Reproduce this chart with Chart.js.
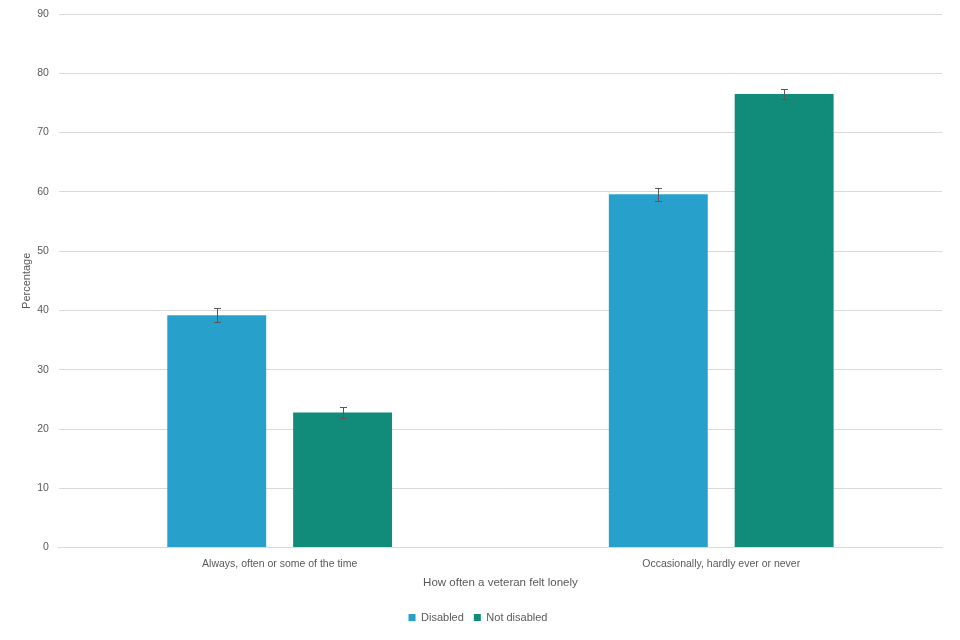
<!DOCTYPE html>
<html>
<head>
<meta charset="utf-8">
<script src="https://cdn.jsdelivr.net/npm/chart.js@4"></script>
<style>
html,body{margin:0;padding:0;background:#fff;}
#wrap{width:960px;height:640px;position:relative;}
</style>
</head>
<body>
<div id="wrap"><canvas id="c" width="960" height="640"></canvas></div>
<script>
const categories = ["Always, often or some of the time", "Occasionally, hardly ever or never"];
const disabled = [39.2, 59.6];
const disabledErr = [1.2, 1.1];
const notDisabled = [22.8, 76.5];
const notDisabledErr = [0.9, 0.9];
const yTicks = [0, 10, 20, 30, 40, 50, 60, 70, 80, 90];

const FONT = "'Liberation Sans', Arial, sans-serif";

const errorBars = {
  id: 'errorBars',
  afterDatasetsDraw(chart) {
    const ctx = chart.ctx;
    const y = chart.scales.y;
    chart.data.datasets.forEach((ds, i) => {
      const meta = chart.getDatasetMeta(i);
      meta.data.forEach((bar, j) => {
        const v = ds.data[j], e = ds.errors[j];
        const top = Math.round(y.getPixelForValue(v + e)) + 0.5;
        const bot = Math.round(y.getPixelForValue(v - e)) + 0.5;
        const x = Math.round(bar.x) + 0.5;
        ctx.save();
        ctx.strokeStyle = '#595959';
        ctx.lineWidth = 1;
        ctx.beginPath();
        ctx.moveTo(x, top); ctx.lineTo(x, bot);
        ctx.moveTo(x - 3.5, top); ctx.lineTo(x + 3.5, top);
        ctx.moveTo(x - 3.5, bot); ctx.lineTo(x + 3.5, bot);
        ctx.stroke();
        ctx.restore();
      });
    });
  }
};

new Chart(document.getElementById('c'), {
  type: 'bar',
  data: {
    labels: categories,
    datasets: [
      { label: 'Disabled', data: disabled, errors: disabledErr, backgroundColor: '#27a0cc' },
      { label: 'Not disabled', data: notDisabled, errors: notDisabledErr, backgroundColor: '#118c7b' }
    ]
  },
  options: {
    responsive: false,
    animation: false,
    devicePixelRatio: 1,
    layout: { padding: { left: 14, right: 18, top: 14, bottom: 7 } },
    datasets: { bar: { categoryPercentage: 0.57, barPercentage: 0.786 } },
    plugins: {
      legend: {
        position: 'bottom',
        labels: {
          boxWidth: 7, boxHeight: 7, padding: 10,
          color: '#595959',
          font: { family: FONT, size: 11 }
        }
      },
      tooltip: { enabled: false }
    },
    scales: {
      x: {
        grid: { display: false, drawTicks: false },
        border: { color: '#d9d9d9', width: 1 },
        ticks: { color: '#595959', font: { family: FONT, size: 10.5 }, padding: 10 },
        title: { display: true, text: 'How often a veteran felt lonely', color: '#595959',
                 font: { family: FONT, size: 11.5 }, padding: { top: -4, bottom: 12 } }
      },
      y: {
        min: 0, max: 90,
        afterBuildTicks(axis) { axis.ticks = yTicks.map(v => ({ value: v })); },
        afterFit(scale) { scale.paddingTop = 0; },
        grid: { color: '#d9d9d9', drawTicks: false },
        border: { display: false },
        ticks: { color: '#595959', font: { family: FONT, size: 10.5 }, padding: 10 },
        title: { display: true, text: 'Percentage', color: '#595959',
                 font: { family: FONT, size: 11 }, padding: { top: 6, bottom: -6 } }
      }
    }
  },
  plugins: [errorBars]
});
</script>
</body>
</html>
